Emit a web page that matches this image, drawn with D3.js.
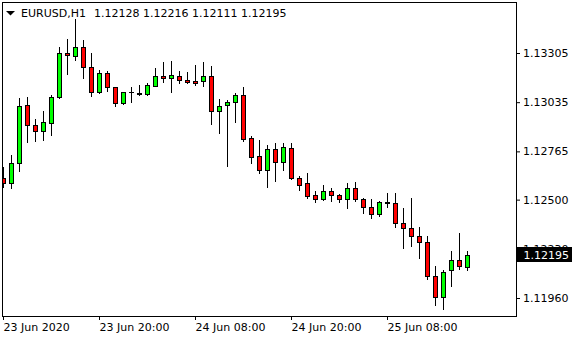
<!DOCTYPE html>
<html>
<head>
<meta charset="utf-8">
<script src="https://cdn.jsdelivr.net/npm/d3@7"></script>
<style>
  html, body { margin: 0; padding: 0; background: #fff; }
  svg text { font-family: "DejaVu Sans", sans-serif; font-size: 11px; }
</style>
</head>
<body>
<div id="chart"></div>
<script>
// EURUSD H1 bars, 23 Jun 08:00 .. 25 Jun 18:00
const opens  = [1.12617,1.12590,1.12699,1.13020,1.12908,1.12878,1.12919,1.13062,1.13303,1.13290,
                1.13336,1.13227,1.13089,1.13194,1.13117,1.13029,1.13089,1.13086,1.13082,1.13122,
                1.13177,1.13166,1.13177,1.13155,1.13149,1.13150,1.13177,1.12985,1.13018,1.13034,
                1.13074,1.12837,1.12738,1.12664,1.12776,1.12705,1.12782,1.12617,1.12590,1.12525,
                1.12505,1.12546,1.12524,1.12502,1.12562,1.12502,1.12458,1.12419,1.12485,1.12480,
                1.12370,1.12343,1.12299,1.12266,1.12079,1.11964,1.12112,1.12167,1.12128];
const highs  = [1.12681,1.12745,1.13056,1.13063,1.12943,1.12985,1.13074,1.13338,1.13382,1.13492,
                1.13376,1.13305,1.13212,1.13206,1.13118,1.13091,1.13120,1.13129,1.13139,1.13224,
                1.13254,1.13261,1.13206,1.13199,1.13239,1.13254,1.13234,1.13051,1.13045,1.13085,
                1.13118,1.12848,1.12827,1.12798,1.12809,1.12809,1.12809,1.12628,1.12645,1.12547,
                1.12580,1.12562,1.12531,1.12590,1.12595,1.12507,1.12502,1.12491,1.12536,1.12536,
                1.12454,1.12509,1.12350,1.12299,1.12134,1.12112,1.12216,1.12315,1.12216];
const lows   = [1.12571,1.12566,1.12659,1.12815,1.12822,1.12827,1.12855,1.13060,1.13190,1.13267,
                1.13169,1.13071,1.13087,1.13095,1.13016,1.13027,1.13038,1.13074,1.13074,1.13122,
                1.13144,1.13093,1.13139,1.13142,1.13131,1.13126,1.12917,1.12867,1.12686,1.12928,
                1.12824,1.12703,1.12648,1.12571,1.12604,1.12663,1.12615,1.12551,1.12511,1.12485,
                1.12500,1.12494,1.12485,1.12456,1.12494,1.12425,1.12401,1.12408,1.12458,1.12348,
                1.12236,1.12247,1.12178,1.12063,1.11920,1.11901,1.12028,1.12118,1.12111];
const closes = [1.12590,1.12699,1.13014,1.12908,1.12878,1.12925,1.13063,1.13303,1.13292,1.13336,
                1.13227,1.13089,1.13194,1.13117,1.13029,1.13089,1.13089,1.13082,1.13128,1.13177,
                1.13166,1.13184,1.13155,1.13144,1.13143,1.13177,1.12985,1.13012,1.13034,1.13074,
                1.12835,1.12736,1.12664,1.12776,1.12708,1.12787,1.12617,1.12582,1.12518,1.12502,
                1.12546,1.12524,1.12502,1.12562,1.12502,1.12458,1.12419,1.12485,1.12482,1.12370,
                1.12343,1.12299,1.12266,1.12079,1.11964,1.12101,1.12167,1.12134,1.12195];

const priceTicks = [1.13305, 1.13035, 1.12765, 1.12500, 1.12230, 1.11960];
const timeTickBars = [0, 12, 24, 36, 48];
const timeTickLabels = ["23 Jun 2020", "23 Jun 20:00", "24 Jun 08:00", "24 Jun 20:00", "25 Jun 08:00"];
const symbol = "EURUSD,H1";
const lastBar = opens.length - 1;

const W = 580, H = 340;
const plot = { left: 2, top: 2, right: 516, bottom: 316 };

const svg = d3.select("#chart").append("svg")
  .attr("width", W).attr("height", H);

// scales
const x = d3.scaleLinear().domain([0, 58]).range([3, 467]);
const y = d3.scaleLinear().domain([1.11960, 1.13305]).range([298, 53]);

svg.append("clipPath").attr("id", "plotclip")
  .append("rect")
  .attr("x", plot.left + 1).attr("y", plot.top + 1)
  .attr("width", plot.right - plot.left - 1)
  .attr("height", plot.bottom - plot.top - 1);

const bars = svg.append("g").attr("clip-path", "url(#plotclip)");
const idx = d3.range(opens.length);

// wicks
bars.selectAll("line.wick")
  .data(idx)
  .enter().append("line")
  .attr("class", "wick")
  .attr("x1", i => x(i) + 0.5)
  .attr("x2", i => x(i) + 0.5)
  .attr("y1", i => Math.round(y(highs[i])))
  .attr("y2", i => Math.round(y(lows[i])) + 1)
  .attr("stroke", "#000")
  .attr("stroke-width", 1);

// bodies
idx.forEach(i => {
  const top = Math.round(y(Math.max(opens[i], closes[i])));
  const bot = Math.round(y(Math.min(opens[i], closes[i])));
  if (bot - top < 1) {
    bars.append("line")
      .attr("x1", x(i) - 2).attr("x2", x(i) + 3)
      .attr("y1", top + 0.5).attr("y2", top + 0.5)
      .attr("stroke", "#000");
  } else {
    bars.append("rect")
      .attr("x", x(i) - 1.5)
      .attr("y", top + 0.5)
      .attr("width", 4)
      .attr("height", bot - top)
      .attr("fill", closes[i] >= opens[i] ? "#00ff00" : "#ff0000")
      .attr("stroke", "#000")
      .attr("stroke-width", 1);
  }
});

// frame
svg.append("rect")
  .attr("x", plot.left + 0.5).attr("y", plot.top + 0.5)
  .attr("width", plot.right - plot.left).attr("height", plot.bottom - plot.top)
  .attr("fill", "none").attr("stroke", "#000");

// price axis
const yAxis = svg.append("g")
  .attr("transform", `translate(${plot.right},0)`)
  .call(d3.axisRight(y).tickValues(priceTicks).tickFormat(d3.format(".5f")).tickSize(4).tickPadding(3));
yAxis.select(".domain").remove();
yAxis.selectAll("text").attr("font-family", "DejaVu Sans").attr("font-size", 11).attr("fill", "#000");

// time axis
const xAxis = svg.append("g")
  .attr("transform", `translate(0,${plot.bottom})`)
  .call(d3.axisBottom(x).tickValues(timeTickBars).tickFormat((d, i) => timeTickLabels[i]).tickSize(4).tickPadding(3));
xAxis.select(".domain").remove();
xAxis.selectAll("text")
  .attr("text-anchor", "start")
  .attr("font-family", "DejaVu Sans").attr("font-size", 11).attr("fill", "#000");

// current price label
const cy = y(closes[lastBar]);
svg.append("rect")
  .attr("x", 517).attr("y", Math.round(cy) - 8)
  .attr("width", 55).attr("height", 15)
  .attr("fill", "#000");
svg.append("text")
  .attr("x", 523.5).attr("y", cy + 0.5)
  .attr("dy", "0.32em")
  .attr("fill", "#fff")
  .text(d3.format(".5f")(closes[lastBar]));

// header
svg.append("path")
  .attr("d", "M6,11 L15,11 L10.5,15.5 Z")
  .attr("fill", "#000");
svg.append("text").attr("x", 21).attr("y", 17).attr("fill", "#000").text(symbol);
svg.append("text").attr("x", 94).attr("y", 17).attr("fill", "#000")
  .text([opens[lastBar], highs[lastBar], lows[lastBar], closes[lastBar]].map(d3.format(".5f")).join(" "));
</script>
</body>
</html>
